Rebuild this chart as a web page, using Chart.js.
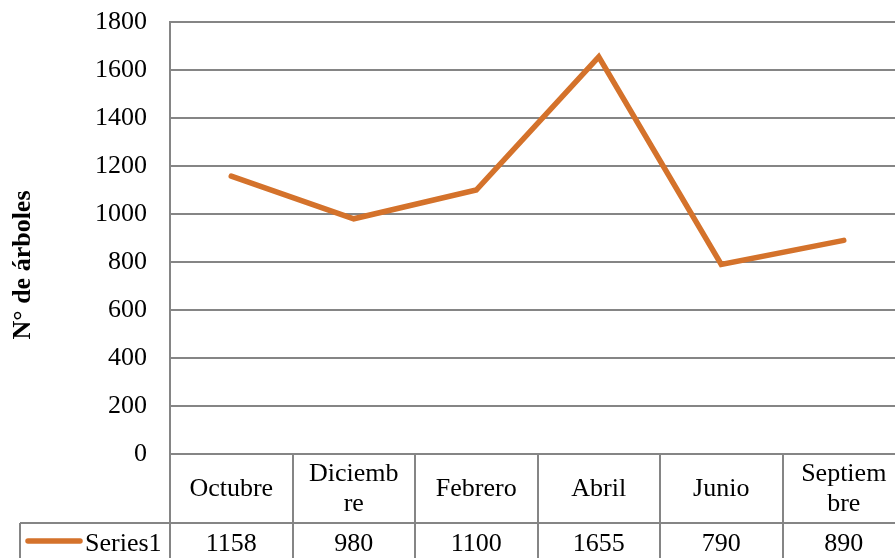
<!DOCTYPE html>
<html>
<head>
<meta charset="utf-8">
<script src="https://cdn.jsdelivr.net/npm/chart.js@4/dist/chart.umd.min.js"></script>
<style>
  html, body { margin: 0; padding: 0; background: #fff; overflow: hidden; }
  #wrap { width: 910px; height: 570px; }
</style>
</head>
<body>
<div id="wrap"><canvas id="c" width="910" height="570"></canvas></div>
<script>
const categories = [['Octubre'], ['Diciemb', 're'], ['Febrero'], ['Abril'], ['Junio'], ['Septiem', 'bre']];
const seriesName = 'Series1';
const seriesValues = [1158, 980, 1100, 1655, 790, 890];
const yTicks = { min: 0, max: 1800, step: 200 };
const yTitle = 'N° de árboles';

const FONT = 'Liberation Serif';
const GRID = '#858585';
const LINE = '#D4722B';

const tablePlugin = {
  id: 'dataTable',
  afterDraw(chart) {
    const ctx = chart.ctx;
    const x = chart.scales.x;
    const area = chart.chartArea;
    const rowTop = area.bottom + 69;
    const bottom = chart.height;
    const rowMid = rowTop + 21;
    ctx.save();
    ctx.strokeStyle = GRID;
    ctx.lineWidth = 2;
    ctx.beginPath();
    ctx.moveTo(20, rowTop); ctx.lineTo(area.right, rowTop);
    ctx.moveTo(20, rowTop); ctx.lineTo(20, bottom);
    ctx.stroke();
    // legend key
    ctx.strokeStyle = LINE;
    ctx.lineWidth = 5.5;
    ctx.lineCap = 'round';
    ctx.beginPath();
    ctx.moveTo(28, rowMid - 3); ctx.lineTo(80, rowMid - 3);
    ctx.stroke();
    ctx.fillStyle = '#000';
    ctx.font = '26px "' + FONT + '"';
    ctx.textBaseline = 'middle';
    ctx.textAlign = 'left';
    ctx.fillText(seriesName, 85, rowMid);
    ctx.textAlign = 'center';
    seriesValues.forEach((v, i) => {
      ctx.fillText(String(v), x.getPixelForValue(i), rowMid);
    });
    // y axis title
    ctx.save();
    ctx.translate(23, 265);
    ctx.rotate(-Math.PI / 2);
    ctx.font = 'bold 26px "' + FONT + '"';
    ctx.textAlign = 'center';
    ctx.textBaseline = 'middle';
    ctx.fillText(yTitle, 0, 0);
    ctx.restore();
    ctx.restore();
  }
};

new Chart(document.getElementById('c'), {
  type: 'line',
  data: {
    labels: categories,
    datasets: [{
      label: seriesName,
      data: seriesValues,
      borderColor: LINE,
      backgroundColor: LINE,
      borderWidth: 5.5,
      borderJoinStyle: 'miter',
      borderCapStyle: 'round',
      pointRadius: 0,
      tension: 0,
      fill: false
    }]
  },
  options: {
    responsive: false,
    animation: false,
    devicePixelRatio: 1,
    layout: { padding: { top: 22, left: 0, right: 5, bottom: 0 } },
    plugins: { legend: { display: false }, tooltip: { enabled: false } },
    scales: {
      x: {
        type: 'category',
        offset: true,
        grid: { offset: true, drawOnChartArea: false, drawTicks: true, tickLength: 116, color: GRID, lineWidth: 2 },
        border: { display: true, color: GRID, width: 2 },
        ticks: { color: '#000', font: { family: FONT, size: 26, lineHeight: 1.15 }, crossAlign: 'center', padding: -96, maxRotation: 0, minRotation: 0, autoSkip: false },
        afterFit(scale) { scale.height = 116; }
      },
      y: {
        min: yTicks.min, max: yTicks.max,
        grid: { color: GRID, lineWidth: 2, drawTicks: false },
        border: { display: true, color: GRID, width: 2 },
        ticks: { stepSize: yTicks.step, color: '#000', font: { family: FONT, size: 26 }, padding: 23, callback: (v) => String(v) },
        title: { display: false },
        afterFit(scale) { scale.width = 170; scale.paddingTop = 10; scale.paddingBottom = 10; }
      }
    }
  },
  plugins: [tablePlugin]
});
</script>
</body>
</html>
